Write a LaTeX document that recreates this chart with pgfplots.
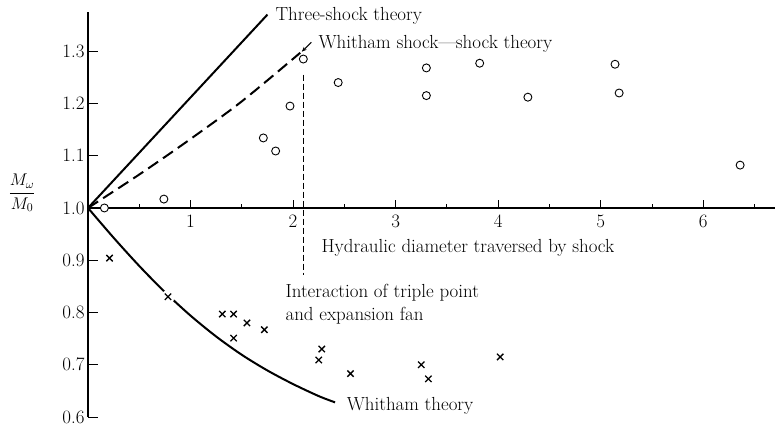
\documentclass[border=0pt]{standalone}
\usepackage{fix-cm}
\usepackage{pgfplots}
\pgfplotsset{compat=1.18}
\usetikzlibrary{arrows.meta}
\newcommand\lbl{\fontsize{19}{23}\selectfont}

\begin{document}
\begin{tikzpicture}
\useasboundingbox (0,0) rectangle (775bp,428bp);
\begin{axis}[
  at={(88bp,11bp)}, anchor=south west,
  scale only axis, width=687bp, height=405bp,
  xmin=0, xmax=6.70, ymin=0.6, ymax=1.375,
  axis x line=none, axis y line*=left,
  xtick=\empty,
  ytick={0.6,0.7,0.8,0.9,1.0,1.1,1.2,1.3},
  yticklabels={0.6,0.7,0.8,0.9,1.0,1.1,1.2,1.3},
  tick align=inside, major tick length=10bp,
  y axis line style={line width=1.2bp},
  ytick style={line width=1bp, black},
  yticklabel style={font=\lbl},
  clip=false,
]
% horizontal reference axis at M/M0 = 1
\draw[line width=1.2bp] (axis cs:0,1) -- (axis cs:6.70,1);
\pgfplotsinvokeforeach{1,...,6}{
  \draw[line width=1bp] (axis cs:#1,1) -- ([yshift=8bp]axis cs:#1,1);
  \node[font=\lbl, anchor=base] at (axis cs:#1,0.962) {#1};
}
\pgfplotsinvokeforeach{0.5,1.5,2.5,3.5,4.5,5.5,6.5}{
  \draw[line width=0.8bp] (axis cs:#1,1) -- ([yshift=4bp]axis cs:#1,1);
}

% three-shock theory
\addplot[black, line width=2bp] coordinates {(0,1) (1.75,1.37)};
% Whitham shock-shock theory
\addplot[black, line width=2bp, dash pattern=on 12bp off 6bp, smooth]
  coordinates {(0,1) (0.5,1.064) (1.0,1.132) (1.5,1.204) (2.07,1.297)};
% Whitham theory
\addplot[black, line width=2bp, smooth]
  coordinates {(0,1) (0.25,0.943) (0.5,0.889) (0.75,0.839) (1.0,0.794)
               (1.25,0.754) (1.5,0.719) (1.75,0.689) (2.0,0.663)
               (2.25,0.640) (2.41,0.628)};
% triple point / expansion fan interaction
\addplot[black, line width=0.8bp, dash pattern=on 6bp off 3bp]
  coordinates {(2.1,1.255) (2.1,0.872)};

% measured Mach stem (circles) and reflected region (crosses)
\addplot[only marks, mark=*, mark size=4bp,
  mark options={fill=white, draw=black, line width=0.9bp}]
  coordinates {(0.16,1.0) (0.74,1.017) (1.71,1.134) (1.83,1.109) (1.97,1.195)
               (2.10,1.285) (2.44,1.240) (3.30,1.268) (3.30,1.215) (3.82,1.277)
               (4.29,1.212) (5.14,1.275) (5.18,1.220) (6.36,1.082)};
% the cross lying on the Whitham curve is set on a clear patch
\addplot[only marks, white, mark=*, mark size=6.5bp]
  coordinates {(0.78,0.830)};
\addplot[only marks, mark=x, mark size=4.5bp,
  mark options={draw=black, line width=1.3bp}]
  coordinates {(0.21,0.904) (0.78,0.830) (1.31,0.797) (1.42,0.797) (1.55,0.780)
               (1.42,0.751) (1.72,0.767) (2.28,0.730) (2.25,0.709) (2.56,0.683)
               (3.25,0.700) (3.32,0.673) (4.02,0.715)};

\node[font=\lbl, anchor=base west] at (axis cs:1.795,1.359) {Three-shock theory};
\node[font=\lbl, anchor=base west] at (axis cs:2.215,1.306) {Whitham shock---shock theory};
\draw[-{Stealth[length=5bp,width=4bp]}, line width=1bp]
  (axis cs:2.178,1.317) -- (axis cs:2.085,1.299);
\node[font=\lbl, anchor=base west] at (axis cs:2.244,0.914) {Hydraulic diameter traversed by shock};
\node[font=\lbl, anchor=base west] at (axis cs:1.893,0.828) {Interaction of triple point};
\node[font=\lbl, anchor=base west] at (axis cs:1.893,0.784) {and expansion fan};
\node[font=\lbl, anchor=base west] at (axis cs:2.49,0.612) {Whitham theory};
\end{axis}
\node[font=\fontsize{17}{20}\selectfont] at (22bp,235bp) {$\displaystyle\frac{M_\omega}{M_0}$};
\end{tikzpicture}
\end{document}
